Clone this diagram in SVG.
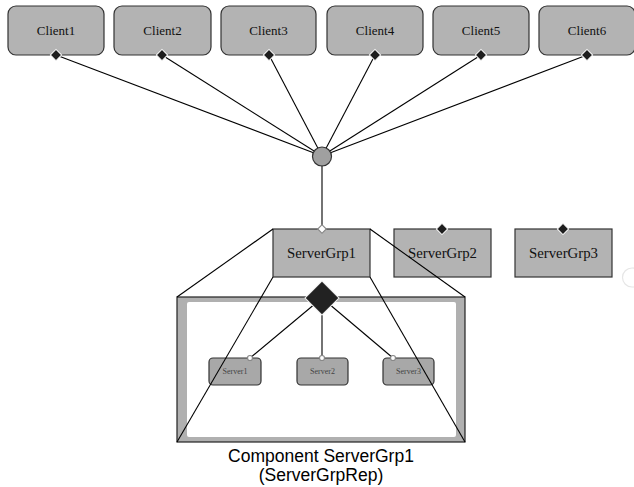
<svg xmlns="http://www.w3.org/2000/svg" width="634" height="487" viewBox="0 0 634 487">
  <style>
    .client .box { fill: #b3b3b3; stroke: #333; stroke-width: 1.2; }
    .grp .box { fill: #b3b3b3; stroke: #333; stroke-width: 1.2; }
    .srv .box { fill: #a8a8a8; stroke: #333; stroke-width: 1.2; }
    .serif { font-family: "Liberation Serif", "Times New Roman", serif; fill: #111; text-anchor: middle; }
    .lbl { font-size: 13px; }
    .glbl { font-size: 14.8px; }
    .slbl { font-size: 8px; fill: #444; }
    .cap { font-family: "Liberation Sans", Arial, sans-serif; font-size: 17.5px; fill: #000; text-anchor: middle; }
    .wire { stroke: #000; stroke-width: 1.1; fill: none; }
    .port { fill: #1e1e1e; stroke: #fff; stroke-width: 1; }
    .hport { fill: #fff; stroke: #888; stroke-width: 1.2; }
  </style>

  <!-- connectors -->
  <g id="connectors">
    <line class="wire" x1="56" y1="55" x2="322" y2="156"/>
    <line class="wire" x1="162" y1="55" x2="322" y2="156"/>
    <line class="wire" x1="269" y1="55" x2="322" y2="156"/>
    <line class="wire" x1="375" y1="55" x2="322" y2="156"/>
    <line class="wire" x1="481" y1="55" x2="322" y2="156"/>
    <line class="wire" x1="587" y1="55" x2="322" y2="156"/>
    <line class="wire" x1="322" y1="156" x2="322" y2="229" stroke="#333" stroke-width="1.6"/>
  </g>

  <!-- clients -->
  <g id="client1" class="client">
    <rect class="box" x="8" y="6" width="96" height="49" rx="8"/>
    <text class="serif lbl" x="56" y="35">Client1</text>
    <rect class="port" x="52" y="51" width="8" height="8" transform="rotate(45 56 55)"/>
  </g>
  <g id="client2" class="client">
    <rect class="box" x="114" y="6" width="97" height="49" rx="8"/>
    <text class="serif lbl" x="162.5" y="35">Client2</text>
    <rect class="port" x="158" y="51" width="8" height="8" transform="rotate(45 162 55)"/>
  </g>
  <g id="client3" class="client">
    <rect class="box" x="221" y="6" width="95" height="49" rx="8"/>
    <text class="serif lbl" x="268.5" y="35">Client3</text>
    <rect class="port" x="265" y="51" width="8" height="8" transform="rotate(45 269 55)"/>
  </g>
  <g id="client4" class="client">
    <rect class="box" x="327" y="6" width="96" height="49" rx="8"/>
    <text class="serif lbl" x="375" y="35">Client4</text>
    <rect class="port" x="371" y="51" width="8" height="8" transform="rotate(45 375 55)"/>
  </g>
  <g id="client5" class="client">
    <rect class="box" x="433" y="6" width="96" height="49" rx="8"/>
    <text class="serif lbl" x="481" y="35">Client5</text>
    <rect class="port" x="477" y="51" width="8" height="8" transform="rotate(45 481 55)"/>
  </g>
  <g id="client6" class="client">
    <rect class="box" x="539" y="6" width="96" height="49" rx="8"/>
    <text class="serif lbl" x="587" y="35">Client6</text>
    <rect class="port" x="583" y="51" width="8" height="8" transform="rotate(45 587 55)"/>
  </g>

  <!-- hub -->
  <g id="hub">
    <circle cx="322" cy="156.5" r="9.5" fill="#a0a0a0" stroke="#333" stroke-width="1.2"/>
  </g>

  <!-- component frame of ServerGrp1 -->
  <g id="component-ServerGrp1">
    <rect x="177" y="297" width="288" height="145" fill="#b0b0b0" stroke="#222" stroke-width="1.2"/>
    <rect x="187" y="302" width="269" height="135" rx="2" fill="#fff"/>
    <text class="cap" x="321" y="461.5">Component ServerGrp1</text>
    <text class="cap" x="321" y="481">(ServerGrpRep)</text>
  </g>

  <!-- server groups -->
  <g id="servergrp1" class="grp">
    <rect class="box" x="273" y="229" width="97" height="48"/>
    <text class="serif glbl" x="321.5" y="258">ServerGrp1</text>
    <rect class="hport" x="319" y="226" width="6" height="6" transform="rotate(45 322 229)"/>
  </g>
  <g id="servergrp2" class="grp">
    <rect class="box" x="394" y="229" width="97" height="48"/>
    <text class="serif glbl" x="442.5" y="258">ServerGrp2</text>
    <rect class="port" x="438" y="225" width="8" height="8" transform="rotate(45 442 229)"/>
  </g>
  <g id="servergrp3" class="grp">
    <rect class="box" x="515" y="229" width="97" height="48"/>
    <text class="serif glbl" x="563.5" y="258">ServerGrp3</text>
    <rect class="port" x="559" y="225" width="8" height="8" transform="rotate(45 563 229)"/>
  </g>

  <!-- internal links of the component -->
  <g id="internal-connectors">
    <line class="wire" x1="322" y1="298" x2="250" y2="358"/>
    <line class="wire" x1="322" y1="298" x2="322" y2="358" stroke="#333" stroke-width="1.4"/>
    <line class="wire" x1="322" y1="298" x2="393" y2="358"/>
  </g>

  <!-- component entry port -->
  <g id="entry">
    <rect x="310" y="286" width="24" height="24" fill="#222" stroke="#eee" stroke-width="1" transform="rotate(45 322 298)"/>
  </g>

  <!-- servers -->
  <g id="server1" class="srv">
    <rect class="box" x="209" y="358" width="52" height="27" rx="4"/>
    <text class="serif slbl" x="235" y="374">Server1</text>
    <circle class="hport" cx="250" cy="358" r="2.5"/>
  </g>
  <g id="server2" class="srv">
    <rect class="box" x="297" y="358" width="51" height="27" rx="4"/>
    <text class="serif slbl" x="322.5" y="374">Server2</text>
    <circle class="hport" cx="322" cy="358" r="2.5"/>
  </g>
  <g id="server3" class="srv">
    <rect class="box" x="383" y="358" width="51" height="27" rx="4"/>
    <text class="serif slbl" x="408.5" y="374">Server3</text>
    <circle class="hport" cx="393" cy="358" r="2.5"/>
  </g>

  <!-- zoom lines from ServerGrp1 to its frame, drawn over everything -->
  <g id="expansion-lines">
    <line class="wire" x1="177" y1="297" x2="273" y2="229"/>
    <line class="wire" x1="465" y1="297" x2="370" y2="229"/>
    <line class="wire" x1="177" y1="442" x2="273" y2="277"/>
    <line class="wire" x1="465" y1="442" x2="370" y2="277"/>
  </g>

  <!-- faint port at the right edge -->
  <g id="edge-port">
    <circle cx="632" cy="277.5" r="9.5" fill="none" stroke="#e6e6e6" stroke-width="1.2"/>
  </g>
</svg>
